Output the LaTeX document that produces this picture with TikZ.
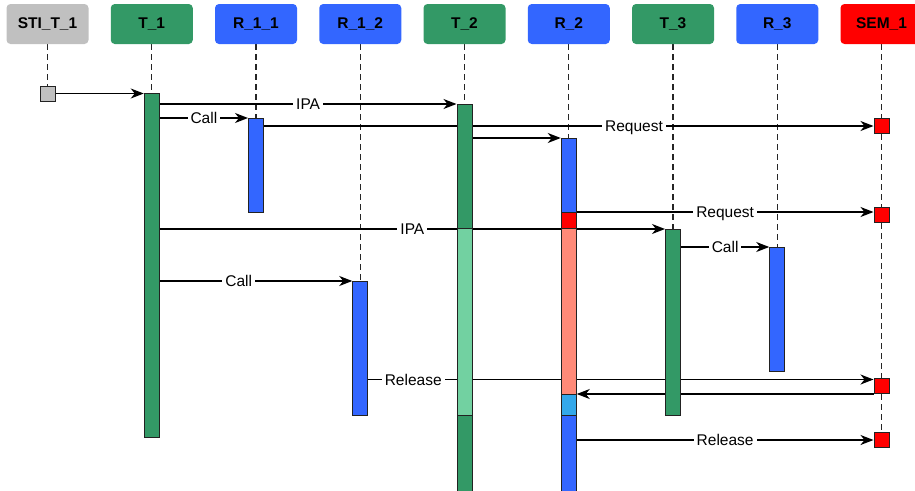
\documentclass[tikz,border=0pt]{standalone}
\usepackage{fontspec}
\setmainfont{Liberation Sans}
\usetikzlibrary{arrows.meta,calc}
\definecolor{cgray}{HTML}{C0C0C0}
\definecolor{cgreen}{HTML}{339966}
\definecolor{cblue}{HTML}{3366FF}
\definecolor{cred}{HTML}{FF0000}
\definecolor{clgreen}{HTML}{72D1A1}
\definecolor{csalmon}{HTML}{FF8A78}
\definecolor{clblue}{HTML}{33A8EA}
\definecolor{cedge}{HTML}{222222}
\pgfdeclarelayer{bg}
\pgfsetlayers{bg,main}
\begin{document}
\begin{tikzpicture}[x=1pt,y=-1pt,
  hdr/.style={rounded corners=4pt, minimum width=82pt, minimum height=40pt,
    inner sep=0pt, font=\bfseries\fontsize{15.5}{18}\selectfont},
  act/.style={draw=cedge, line width=1pt, minimum width=15pt, inner sep=0pt, anchor=north},
  sqbox/.style={draw=cedge, line width=1pt, minimum width=15pt, minimum height=15pt, inner sep=0pt},
  life/.style={draw=black!85, line width=1.3pt, dash pattern=on 6pt off 4pt},
  msg/.style={draw=black, line width=1.3pt, -{Stealth[length=13pt,width=10pt,inset=4pt]}},
  lbl/.style={fill=white, inner xsep=3pt, inner ysep=2pt, text height=11pt, text depth=0pt,
    font=\fontsize{15.5}{18}\selectfont}]
\useasboundingbox (0,0) rectangle (915,490);

% lifeline heads
\node[hdr, fill=cgray]  (hsti) at (47.5,24)   {STI\_T\_1};
\node[hdr, fill=cgreen] (ht1)  at (151.75,24) {T\_1};
\node[hdr, fill=cblue]  (hr11) at (256,24)    {R\_1\_1};
\node[hdr, fill=cblue]  (hr12) at (360.25,24) {R\_1\_2};
\node[hdr, fill=cgreen] (ht2)  at (464.5,24)  {T\_2};
\node[hdr, fill=cblue]  (hr2)  at (568.75,24) {R\_2};
\node[hdr, fill=cgreen] (ht3)  at (673,24)    {T\_3};
\node[hdr, fill=cblue]  (hr3)  at (777.25,24) {R\_3};
\node[hdr, fill=cred]   (hsem) at (881.5,24)  {SEM\_1};

% stimulus and semaphore markers
\node[sqbox, fill=cgray] (sq0) at (47.5,93.5) {};
\node[sqbox, fill=cred]  (s1)  at (881.5,126) {};
\node[sqbox, fill=cred]  (s2)  at (881.5,215) {};
\node[sqbox, fill=cred]  (s3)  at (881.5,386) {};
\node[sqbox, fill=cred]  (s4)  at (881.5,440) {};

% activations
\node[act, fill=cgreen, minimum height=344pt] (t1a)  at (151.75,93) {};
\node[act, fill=cblue,  minimum height=94pt]  (r11a) at (256,118)   {};
\node[act, fill=cblue,  minimum height=134pt] (r12a) at (360.25,281) {};
\node[act, fill=cgreen, minimum height=124pt] (t2a)  at (464.5,104) {};
\node[act, fill=clgreen,minimum height=187pt] (t2b)  at (464.5,228) {};
\node[act, fill=cgreen, minimum height=90pt]  (t2c)  at (464.5,415) {};
\node[act, fill=cblue,  minimum height=74pt]  (r2a)  at (568.75,138) {};
\node[act, fill=cred,   minimum height=16pt]  (r2b)  at (568.75,212) {};
\node[act, fill=csalmon,minimum height=166pt] (r2c)  at (568.75,228) {};
\node[act, fill=clblue, minimum height=21pt]  (r2d)  at (568.75,394) {};
\node[act, fill=cblue,  minimum height=90pt]  (r2e)  at (568.75,415) {};
\node[act, fill=cgreen, minimum height=186pt] (t3a)  at (673,229)   {};
\node[act, fill=cblue,  minimum height=124pt] (r3a)  at (777.25,247) {};

\coordinate (rel1in) at ($(s3.north west)+(0,1.5)$);

\begin{pgfonlayer}{bg}
  % lifelines
  \draw[life] (hsti.south) -- (sq0.north);
  \draw[life] (ht1.south)  -- (t1a.north);
  \draw[life] (hr11.south) -- (r11a.north);
  \draw[life] (hr12.south) -- (r12a.north);
  \draw[life] (ht2.south)  -- (t2a.north);
  \draw[life] (hr2.south)  -- (r2a.north);
  \draw[life] (ht3.south)  -- (t3a.north);
  \draw[life] (hr3.south)  -- (r3a.north);
  \draw[life] (hsem.south) -- (s1.north);
  \draw[life] (s1.south) -- (s2.north);
  \draw[life] (s2.south) -- (s3.north);
  \draw[life] (s3.south) -- (s4.north);

  % messages
  \draw[msg] (sq0.east) -- (sq0.east -| t1a.west);
  \draw[msg] (t1a.east |- t2a.north) -- node[lbl, pos=0.5] {IPA} (t2a.north west);
  \draw[msg] (t1a.east |- r11a.north) -- node[lbl, pos=0.5] {Call} (r11a.north west);
  \draw[msg] (r11a.east |- s1.west) -- node[lbl, pos=0.607] {Request} (s1.west);
  \draw[msg] (t2a.east |- r2a.north) -- (r2a.north west);
  \draw[msg] (r2b.north east) -- node[lbl, pos=0.5] {Request} (r2b.north east -| s2.west);
  \draw[msg] (t1a.east |- t3a.north) -- node[lbl, pos=0.5] {IPA} (t3a.north west);
  \draw[msg] (t3a.east |- r3a.north) -- node[lbl, pos=0.5] {Call} (r3a.north west);
  \draw[msg] (t1a.east |- r12a.north) -- node[lbl, pos=0.41] {Call} (r12a.north west);
  \draw[msg] (r12a.east |- rel1in) -- node[lbl, pos=0.089] {Release} (rel1in);
  \draw[msg] (s3.south west) -- (r2d.north east);
  \draw[msg] (r2e.east |- s4.west) -- node[lbl, pos=0.5] {Release} (s4.west);
\end{pgfonlayer}
\end{tikzpicture}
\end{document}
